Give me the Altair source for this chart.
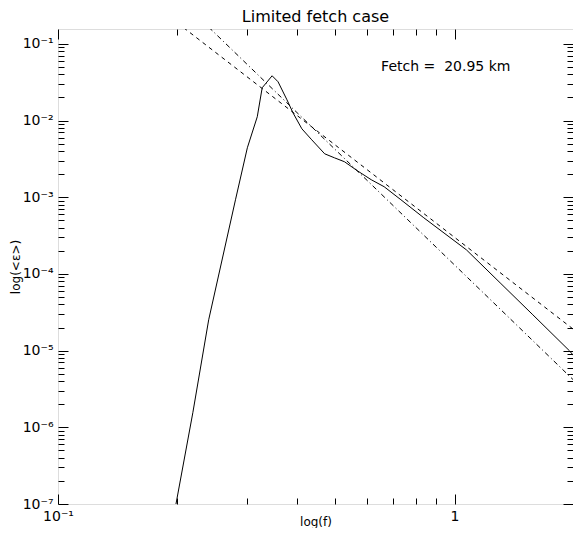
import altair as alt
import pandas as pd

# Spectrum (solid curve)
spec_f = [0.192, 0.1984, 0.2188, 0.2399, 0.2803, 0.3003, 0.3181, 0.3273, 0.3467,
          0.3589, 0.3780, 0.3914, 0.4121, 0.4365, 0.4705, 0.4983, 0.5279, 0.5689,
          0.6166, 0.6646, 0.7328, 0.8367, 1.0715, 1.303, 1.576, 1.950, 2.0]
spec_e = [4e-8, 1.0e-7, 1.55e-6, 2.52e-5, 9.25e-4, 4.41e-3, 1.12e-2, 2.67e-2, 3.83e-2,
          3.2e-2, 1.86e-2, 1.26e-2, 7.8e-3, 5.6e-3, 3.68e-3, 3.26e-3, 2.9e-3, 2.21e-3,
          1.69e-3, 1.37e-3, 9.25e-4, 5.39e-4, 2.06e-4, 7.66e-5, 2.93e-5, 9.93e-6, 8.5e-6]

# Dashed reference line (end points)
dash_f = [0.2, 2.0]
dash_e = [0.1875, 1.875e-5]

# Dash-dot reference line (end points)
dd_f = [0.24, 2.0]
dd_e = [0.1645, 4.09e-6]

# Axis ticks
x_major = [0.1, 1.0]
x_ticks = [0.1, 0.2, 0.3, 0.4, 0.5, 0.6, 0.7, 0.8, 0.9, 1.0]
y_major = [1e-7, 1e-6, 1e-5, 1e-4, 1e-3, 1e-2, 1e-1]
y_ticks = [k * 10.0 ** d for d in range(-7, -1) for k in range(1, 10)] + [0.1]

note_f = [0.653]
note_e = [0.0501]
note_text = ["Fetch =\u00a0 20.95 km"]

W, H = 515, 475
FONT = "DejaVu Sans"

spec_df = pd.DataFrame({"f": spec_f, "e": spec_e})
dash_df = pd.DataFrame({"f": dash_f, "e": dash_e})
dd_df = pd.DataFrame({"f": dd_f, "e": dd_e})
note_df = pd.DataFrame({"f": note_f, "e": note_e, "t": note_text})

xs = alt.Scale(type="log", domain=[0.1, 1.99])
ys = alt.Scale(type="log", domain=[1e-7, 0.156])

major_test = "abs(log(datum.value)/LN10 - round(log(datum.value)/LN10)) < 0.001"
tick_size = {"condition": {"test": major_test, "value": 10}, "value": 6}

sup = "['\u2070','\u00b9','\u00b2','\u00b3','\u2074','\u2075','\u2076','\u2077','\u2078','\u2079']"
label_expr = ("(datum.value > 0.99 && datum.value < 1.01) ? '1' : '10\u207b' + "
              + sup + "[round(-log(datum.value)/LN10)]")

def tick_axis(orient, values, offset):
    return alt.Axis(orient=orient, values=values, offset=offset, labels=False,
                    domain=False, grid=False, title=None, tickColor="black",
                    tickWidth=1, tickSize=tick_size)

solid = alt.Chart(spec_df).mark_line(color="black", strokeWidth=1, clip=True).encode(
    x=alt.X("f:Q", scale=xs, axis=alt.Axis(
        orient="bottom", values=x_major, labelExpr=label_expr, ticks=False, tickSize=0,
        domain=False, grid=False, labelFlush=False, title="log(f)", labelFont=FONT,
        labelFontSize=14, labelColor="black", labelPadding=5, titleFont=FONT,
        titleFontSize=12, titleFontWeight="normal", titleColor="black",
        titleBaseline="alphabetic", titleY=21)),
    y=alt.Y("e:Q", scale=ys, axis=alt.Axis(
        orient="left", values=y_major, labelExpr=label_expr, ticks=False, tickSize=0,
        domain=False, grid=False, labelFlush=False, title="log(<\u03b5>)", labelFont=FONT,
        labelFontSize=14, labelColor="black", labelPadding=5, titleFont=FONT,
        titleFontSize=12, titleFontWeight="normal", titleColor="black",
        titleBaseline="middle", titleX=-43)),
    order=alt.Order("f:Q"),
)

dashed = alt.Chart(dash_df).mark_line(color="black", strokeWidth=1, strokeDash=[4, 4], clip=True).encode(
    x=alt.X("f:Q", scale=xs, axis=tick_axis("top", x_ticks, -H)),
    y=alt.Y("e:Q", scale=ys, axis=tick_axis("right", y_ticks, -W)),
)

dashdot = alt.Chart(dd_df).mark_line(color="black", strokeWidth=1, strokeDash=[5, 3, 1, 3], clip=True).encode(
    x=alt.X("f:Q", scale=xs, axis=tick_axis("bottom", x_ticks, -H)),
    y=alt.Y("e:Q", scale=ys, axis=tick_axis("left", y_ticks, -W)),
)

note = alt.Chart(note_df).mark_text(align="left", baseline="middle", font=FONT,
                                     fontSize=14, color="black").encode(
    x=alt.X("f:Q", scale=xs, axis=None),
    y=alt.Y("e:Q", scale=ys, axis=None),
    text="t:N",
)

chart = alt.layer(solid, dashed, dashdot, note).resolve_axis(
    x="independent", y="independent"
).properties(
    width=W, height=H,
    autosize=alt.AutoSizeParams(type="none"),
    padding={"left": 50, "top": 21, "right": 0, "bottom": 24},
    title=alt.Title("Limited fetch case", font=FONT, fontSize=16, fontWeight="normal",
                    color="black", offset=4, anchor="middle"),
).configure_view(stroke="black", strokeWidth=1).configure(background="white")

chart.save("out.html", embed_options={"renderer": "svg", "actions": False})
